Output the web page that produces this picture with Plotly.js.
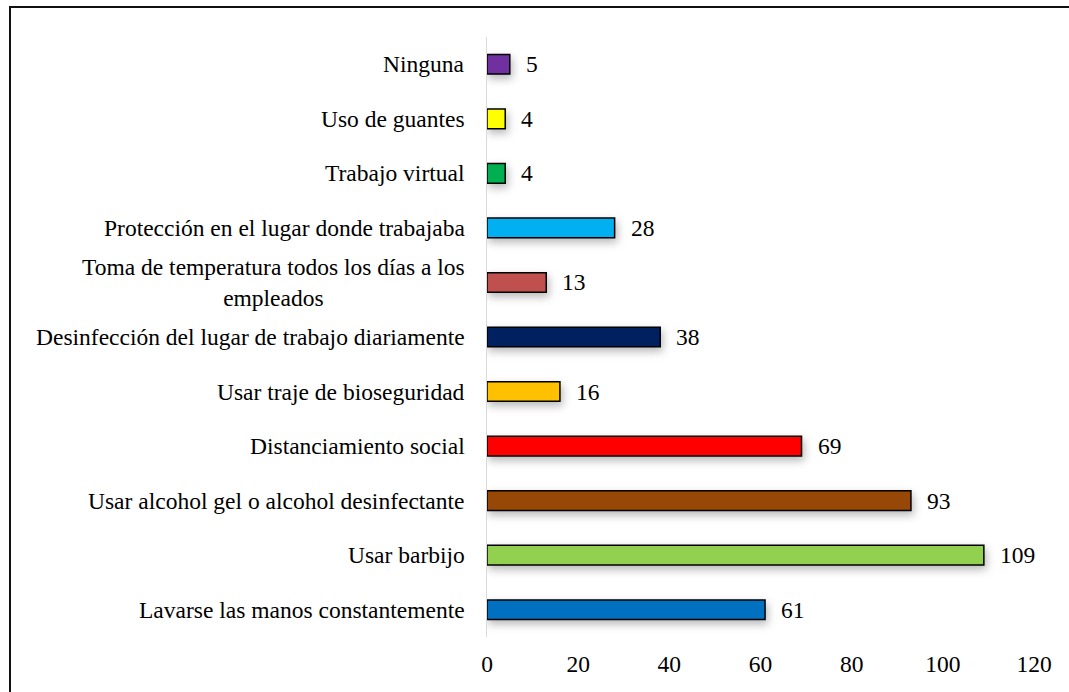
<!DOCTYPE html>
<html>
<head>
<meta charset="utf-8">
<script src="https://cdn.plot.ly/plotly-3.0.1.min.js"></script>
<style>
html,body{margin:0;padding:0;background:#fff;}
#wrap{position:relative;width:1069px;height:692px;overflow:hidden;}
#frame{position:absolute;left:9px;top:6px;width:1100px;height:720px;border:2px solid #111;box-sizing:border-box;pointer-events:none;}
#chart{position:absolute;left:0;top:0;width:1069px;height:692px;}
#chart .bars .point path{filter:drop-shadow(2px 4px 4px rgba(0,0,0,0.28));}
</style>
</head>
<body>
<div id="wrap"><div id="chart"></div><div id="frame"></div></div>
<script>
const categories = [
  "Lavarse las manos constantemente",
  "Usar barbijo",
  "Usar alcohol gel o alcohol desinfectante",
  "Distanciamiento social",
  "Usar traje de bioseguridad",
  "Desinfección del lugar de trabajo diariamente",
  "Toma de temperatura todos los días a los<br>empleados",
  "Protección en el lugar donde trabajaba",
  "Trabajo virtual",
  "Uso de guantes",
  "Ninguna"
];
const values = [61, 109, 93, 69, 16, 38, 13, 28, 4, 4, 5];
const barColors = ["#0070C0","#92D050","#974706","#FF0000","#FFC000","#002060","#C0504D","#00B0F0","#00B050","#FFFF00","#7030A0"];
const xTicks = [0, 20, 40, 60, 80, 100, 120];

const font = {family: "Liberation Serif, 'Times New Roman', serif", size: 23.5, color: "#000"};

const trace = {
  type: "bar",
  orientation: "h",
  x: values,
  y: categories,
  marker: {color: barColors, line: {color: "#000", width: 1.5}},
  width: 0.36,
  hoverinfo: "x+y"
};

const annotations = [];
categories.forEach((c, i) => {
  annotations.push({
    xref: "paper", yref: "y", x: 0, y: c, text: c,
    xanchor: "right", yanchor: "middle", align: "center",
    xshift: -20, showarrow: false, font: font
  });
  annotations.push({
    xref: "x", yref: "y", x: values[i], y: c, text: String(values[i]),
    xanchor: "left", yanchor: "middle", xshift: 14,
    showarrow: false, font: font
  });
});

const layout = {
  width: 1069, height: 692,
  margin: {l: 487, r: 35, t: 37, b: 55},
  paper_bgcolor: "#fff", plot_bgcolor: "#fff",
  showlegend: false,
  font: font,
  xaxis: {
    range: [0, 120], tickvals: xTicks, ticktext: xTicks.map(String),
    showgrid: false, zeroline: false, showline: false, ticks: "",
    ticklabelstandoff: 10, tickfont: font, fixedrange: true
  },
  yaxis: {
    type: "category", categoryorder: "array", categoryarray: categories,
    range: [-0.5, categories.length - 0.5],
    showticklabels: false, showgrid: false, zeroline: false,
    showline: true, linecolor: "#d9d9d9", linewidth: 1.5, ticks: "",
    fixedrange: true
  },
  annotations: annotations
};

Plotly.newPlot("chart", [trace], layout, {displayModeBar: false, staticPlot: true});
</script>
</body>
</html>
